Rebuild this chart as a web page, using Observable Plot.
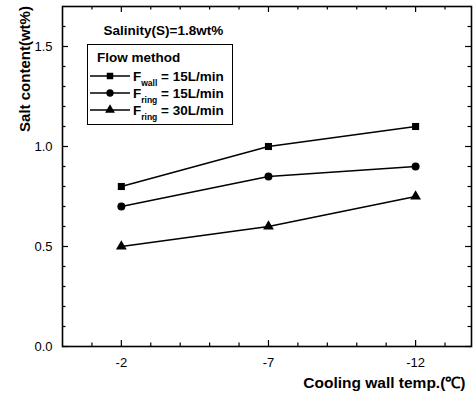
<!DOCTYPE html>
<html><head><meta charset="utf-8">
<script src="https://cdn.jsdelivr.net/npm/d3@7"></script>
<script src="https://cdn.jsdelivr.net/npm/@observablehq/plot@0.6"></script>
<style>body{margin:0;background:#fff;} svg{display:block}</style>
</head><body><div id="chart"></div>
<script>
// ---- data ----
const temps = [-2, -7, -12];
const fWall15 = [0.8, 1.0, 1.1];
const fRing15 = [0.7, 0.85, 0.9];
const fRing30 = [0.5, 0.6, 0.75];
const seriesKeys = ["Fwall15", "Fring15", "Fring30"];
const seriesValues = [fWall15, fRing15, fRing30];
const seriesSymbols = ["square", "circle", "triangle"];
const legendParts = [["F", "wall", " = 15L/min"], ["F", "ring", " = 15L/min"], ["F", "ring", " = 30L/min"]];
const legendTitle = "Flow method";
const noteText = "Salinity(S)=1.8wt%";
const xLabel = "Cooling wall temp.(\u2103)";
const yLabel = "Salt content(wt%)";
const xTickValues = [-2, -7, -12];
const yTickValues = [0, 0.5, 1.0, 1.5];
const xMinorValues = [-1, -3, -4, -5, -6, -8, -9, -10, -11, -13];
const yMinorValues = [0.1, 0.2, 0.3, 0.4, 0.6, 0.7, 0.8, 0.9, 1.1, 1.2, 1.3, 1.4, 1.6];

const rows = seriesKeys.flatMap((s, i) => temps.map((t, j) => ({s, t, v: seriesValues[i][j]})));

// ---- layout ----
const W = 473, H = 398, mL = 62, mR = 2, mT = 6, mB = 52;
const fw = W - mL - mR, fh = H - mT - mB;
const font = "'Liberation Sans', Arial, sans-serif";

const chart = Plot.plot({
  width: W, height: H,
  marginLeft: mL, marginRight: mR, marginTop: mT, marginBottom: mB,
  style: {fontFamily: font, background: "white", color: "black"},
  x: {domain: [0, -13.9], label: null},
  y: {domain: [0, 1.7], label: null},
  symbol: {domain: seriesKeys, range: seriesSymbols},
  marks: [
    Plot.ruleX(xTickValues, {stroke: "black", strokeWidth: 1.2, insetTop: fh - 6}),
    Plot.ruleX(xTickValues, {stroke: "black", strokeWidth: 1.2, insetBottom: fh - 6}),
    Plot.ruleX(xMinorValues, {stroke: "black", strokeWidth: 1.2, insetTop: fh - 3.5}),
    Plot.ruleX(xMinorValues, {stroke: "black", strokeWidth: 1.2, insetBottom: fh - 3.5}),
    Plot.ruleY(yTickValues, {stroke: "black", strokeWidth: 1.2, insetRight: fw - 6}),
    Plot.ruleY(yTickValues, {stroke: "black", strokeWidth: 1.2, insetLeft: fw - 6}),
    Plot.ruleY(yMinorValues, {stroke: "black", strokeWidth: 1.2, insetRight: fw - 3.5}),
    Plot.ruleY(yMinorValues, {stroke: "black", strokeWidth: 1.2, insetLeft: fw - 3.5}),
    Plot.frame({stroke: "black", strokeWidth: 1.6}),
    Plot.axisY(yTickValues, {tickSize: 0, tickPadding: 10, fontSize: 13, tickFormat: d => d.toFixed(1), label: null}),
    Plot.axisX(xTickValues, {tickSize: 0, tickPadding: 11, fontSize: 13, tickFormat: d => String(d), label: null}),
    Plot.line(rows, {x: "t", y: "v", z: "s", stroke: "black", strokeWidth: 1.4}),
    Plot.dot(rows, {x: "t", y: "v", symbol: "s", fill: "black", stroke: "none", r: 4}),
    Plot.text([noteText], {text: d => d, frameAnchor: "top-left", dx: 41, dy: 19, textAnchor: "start", fontWeight: "bold", fontSize: 13.5}),
    Plot.text([xLabel], {text: d => d, frameAnchor: "bottom-right", dx: -6, dy: 41, textAnchor: "end", fontWeight: "bold", fontSize: 15.5})
  ]
});

const svg = d3.select(chart);

// ---- rotated y-axis title ----
svg.append("text")
  .attr("transform", "translate(25,69) rotate(-90)")
  .attr("text-anchor", "middle").attr("dy", "0.35em")
  .attr("font-family", font).attr("font-weight", "bold").attr("font-size", 15)
  .text(yLabel);

// ---- legend (inside frame) ----
const g = svg.append("g").attr("font-family", font).attr("font-weight", "bold").attr("text-anchor", "start");
g.append("rect").attr("x", 87.5).attr("y", 44.5).attr("width", 145).attr("height", 80)
  .attr("fill", "white").attr("stroke", "black").attr("stroke-width", 1);
g.append("text").attr("x", 97).attr("y", 62).attr("font-size", 13.5).text(legendTitle);
const symMap = {square: d3.symbolSquare, circle: d3.symbolCircle, triangle: d3.symbolTriangle};
legendParts.forEach((p, i) => {
  const cy = 76 + i * 17;
  g.append("line").attr("x1", 90).attr("x2", 130).attr("y1", cy).attr("y2", cy)
    .attr("stroke", "black").attr("stroke-width", 1.4);
  g.append("path").attr("transform", `translate(110,${cy})`)
    .attr("d", d3.symbol(symMap[seriesSymbols[i]], 42)()).attr("fill", "black");
  const t = g.append("text").attr("x", 133).attr("y", cy + 5).attr("font-size", 13.5);
  t.append("tspan").text(p[0]);
  t.append("tspan").attr("font-size", 8.5).attr("dy", 5).text(p[1]);
  t.append("tspan").attr("dy", -5).text(p[2]);
});

document.getElementById("chart").appendChild(chart);
</script>
</body></html>
